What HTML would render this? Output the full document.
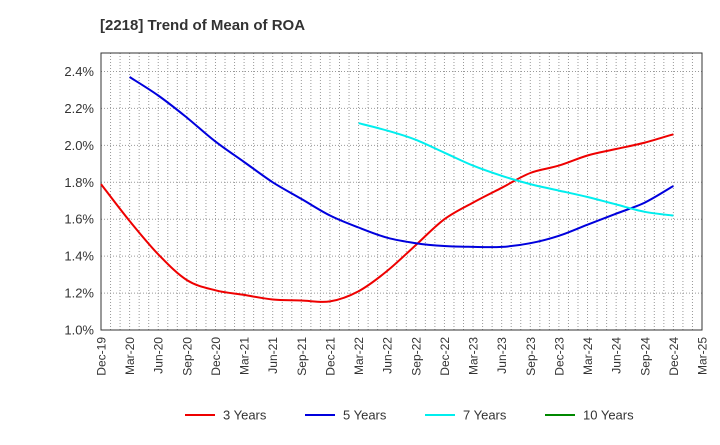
<!DOCTYPE html>
<html><head><meta charset="utf-8"><style>
body{margin:0;background:#fff;font-family:"Liberation Sans",Arial,sans-serif}
</style></head><body>
<svg id="chart" width="720" height="440" xmlns="http://www.w3.org/2000/svg">
<text x="100" y="30" font-size="15" font-weight="bold" fill="#333">[2218]  Trend of Mean of ROA</text>
<g id="grid"></g>
<g id="axes"></g>
<g id="series"></g>
<g id="legend"></g>
</svg>
<script>
const xLabels=["Dec-19","Mar-20","Jun-20","Sep-20","Dec-20","Mar-21","Jun-21","Sep-21","Dec-21","Mar-22","Jun-22","Sep-22","Dec-22","Mar-23","Jun-23","Sep-23","Dec-23","Mar-24","Jun-24","Sep-24","Dec-24","Mar-25"];
const yTicks=[1.0,1.2,1.4,1.6,1.8,2.0,2.2,2.4];
const s3Start=0;
const s3=[1.79,1.59,1.41,1.27,1.215,1.19,1.165,1.16,1.155,1.21,1.32,1.46,1.60,1.69,1.77,1.85,1.89,1.945,1.98,2.015,2.06];
const s5Start=1;
const s5=[2.37,2.27,2.15,2.02,1.91,1.80,1.71,1.62,1.555,1.50,1.47,1.455,1.45,1.45,1.47,1.51,1.57,1.63,1.69,1.78];
const s7Start=9;
const s7=[2.12,2.08,2.03,1.96,1.89,1.835,1.79,1.755,1.72,1.68,1.64,1.62];
const s10=[];
const L=101,R=702,T=53,B=330,yMin=1.0,yMax=2.5;
const NS="http://www.w3.org/2000/svg";
const xq=i=>L+(R-L)*i/(xLabels.length-1);
const xm=m=>L+(R-L)*m/63;
const y=v=>B-(v-yMin)/(yMax-yMin)*(B-T);
function mk(t,a,p){const e=document.createElementNS(NS,t);for(const k in a)e.setAttribute(k,a[k]);p.appendChild(e);return e;}
const grid=document.getElementById('grid'),axes=document.getElementById('axes'),ser=document.getElementById('series'),leg=document.getElementById('legend');
for(let m=1;m<63;m++){const g=mk('line',{x1:xm(m),x2:xm(m),y1:T,y2:B,stroke:'#999','stroke-width':1,'stroke-dasharray':'1,2'},grid);

}
yTicks.forEach(v=>{if(v>yMin){const g=mk('line',{x1:L,x2:R,y1:y(v),y2:y(v),stroke:'#999','stroke-width':1,'stroke-dasharray':'1,2'},grid);

}
const t=mk('text',{x:L-7,y:y(v)+4.5,'text-anchor':'end','font-size':13,fill:'#333'},axes);t.textContent=v.toFixed(1)+'%';

});
const fr=mk('rect',{x:L,y:T,width:R-L,height:B-T,fill:'none',stroke:'#333','stroke-width':1},axes);


xLabels.forEach((s,i)=>{const x=xq(i);const t=mk('text',{x:x+4.5,y:B+7,'text-anchor':'end','font-size':12,fill:'#333',transform:`rotate(-90 ${x+4.5} ${B+7})`},axes);t.textContent=s;

});
function line(arr,start,col,name){
const pts=arr.map((v,i)=>[xq(start+i),y(v)]);
let d='M'+pts[0][0].toFixed(1)+' '+pts[0][1].toFixed(1);
for(let i=0;i<pts.length-1;i++){const p0=pts[Math.max(0,i-1)],p1=pts[i],p2=pts[i+1],p3=pts[Math.min(pts.length-1,i+2)];
const c1=[p1[0]+(p2[0]-p0[0])/6,p1[1]+(p2[1]-p0[1])/6],c2=[p2[0]-(p3[0]-p1[0])/6,p2[1]-(p3[1]-p1[1])/6];
d+=` C${c1[0].toFixed(1)} ${c1[1].toFixed(1)} ${c2[0].toFixed(1)} ${c2[1].toFixed(1)} ${p2[0].toFixed(1)} ${p2[1].toFixed(1)}`;}
const p=mk('path',{d:d,fill:'none',stroke:col,'stroke-width':2,'stroke-linejoin':'round'},ser);

}
line(s3,s3Start,'#e00','line-3-years');line(s5,s5Start,'#00d','line-5-years');line(s7,s7Start,'#0ee','line-7-years');
if(s10.length)line(s10,0,'#080','line-10-years');
[["3 Years","#e00",185],["5 Years","#00d",305],["7 Years","#0ee",425],["10 Years","#080",545]].forEach(([n,c,x])=>{
const g=mk('g',{},leg);


mk('line',{x1:x,x2:x+30,y1:415,y2:415,stroke:c,'stroke-width':2},g);
const t=mk('text',{x:x+38,y:419.5,'font-size':13,fill:'#333'},g);t.textContent=n;});
</script>
</body></html>
